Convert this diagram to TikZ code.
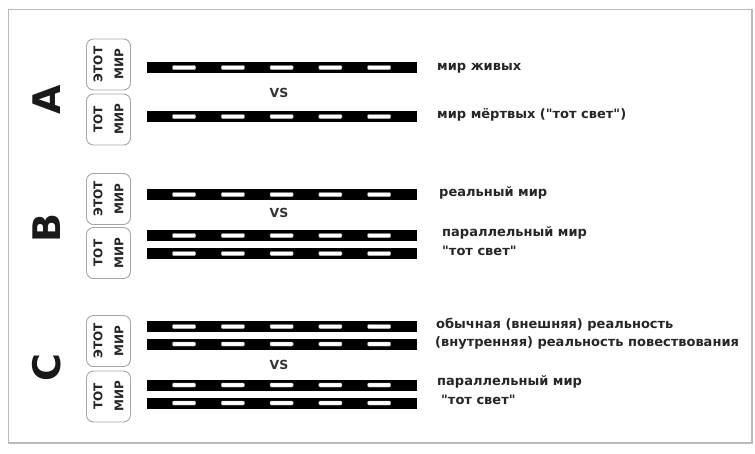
\documentclass[tikz,border=0pt]{standalone}
\usepackage{fontspec}
\setmainfont{DejaVu Sans}[Ligatures=TeXOff]
\begin{document}
\begin{tikzpicture}[x=1pt,y=-1pt,
  lbl/.style={font=\bfseries\fontsize{13}{15}\selectfont, text=black!85, anchor=base west, inner sep=0pt},
  world/.style={draw=gray!70, line width=0.9pt, rounded corners=7pt, minimum width=51pt, minimum height=44pt, rotate=90, align=center, font=\bfseries\fontsize{12}{21}\selectfont, inner sep=0pt, text=black!85},
  sect/.style={font=\bfseries\fontsize{38}{38}\selectfont, rotate=90, inner sep=0pt, text=black!90},
  vs/.style={font=\bfseries\fontsize{12.5}{12.5}\selectfont, inner sep=0pt, text=black!80},
  road/.pic={
    \fill[black] (0,-5.5) rectangle (270,5.5);
    \foreach \i in {0,...,4} {
      \filldraw[fill=white, draw=gray!60, line width=0.4pt, rounded corners=1pt] ({25.5+48.8*\i},-2) rectangle ++(23,4);
    }
  }]
\useasboundingbox (0,0) rectangle (755,453);
\draw[gray!55, line width=1.3pt] (8.5,9.5) rectangle (752,443);

% section A
\node[sect] (sa) at (47,100) {A};
\node[world] (a1) at (108.5,64.5) {ЭТОТ\\МИР};
\node[world] (a2) at (108.5,119.5) {ТОТ\\МИР};
\pic at (147,67.5) {road};
\pic at (147,116.5) {road};
\node[vs] (vsa) at (279,93) {VS};
\node[lbl] (la1) at (437,70.5) {мир живых};
\node[lbl] (la2) at (437,118) {мир мёртвых ("тот свет")};

% section B
\node[sect] (sb) at (47,228) {B};
\node[world] (b1) at (108.5,199) {ЭТОТ\\МИР};
\node[world] (b2) at (108.5,253) {ТОТ\\МИР};
\pic at (147,194.5) {road};
\pic at (147,235.5) {road};
\pic at (147,253.5) {road};
\node[vs] (vsb) at (279,213) {VS};
\node[lbl] (lb1) at (439,196.5) {реальный мир};
\node[lbl] (lb2) at (442,236.5) {параллельный мир};
\node[lbl] (lb3) at (442,255.5) {"тот свет"};

% section C
\node[sect] (sc) at (47,368) {C};
\node[world] (c1) at (108.5,341) {ЭТОТ\\МИР};
\node[world] (c2) at (108.5,396.5) {ТОТ\\МИР};
\pic at (147,326.5) {road};
\pic at (147,344) {road};
\pic at (147,385) {road};
\pic at (147,403) {road};
\node[vs] (vsc) at (279,365) {VS};
\node[lbl] (lc1) at (436,328.5) {обычная (внешняя) реальность};
\node[lbl] (lc2) at (435,346.5) {(внутренняя) реальность повествования};
\node[lbl] (lc3) at (437,385.5) {параллельный мир};
\node[lbl] (lc4) at (441,404.5) {"тот свет"};
\end{tikzpicture}
\end{document}
